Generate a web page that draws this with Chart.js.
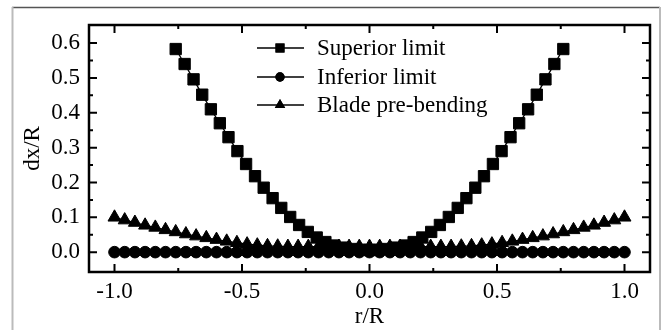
<!DOCTYPE html>
<html>
<head>
<meta charset="utf-8">
<script src="https://cdn.jsdelivr.net/npm/chart.js@4/dist/chart.umd.min.js"></script>
<style>
  html, body { margin: 0; padding: 0; background: #fff; }
  #wrap { width: 663px; height: 330px; position: relative; }
</style>
</head>
<body>
<div id="wrap"><canvas id="chart" width="663" height="330"></canvas></div>
<script>
// r/R grid shared by inferior limit and blade pre-bending
const rGrid = [-1.00, -0.96, -0.92, -0.88, -0.84, -0.80, -0.76, -0.72, -0.68, -0.64,
  -0.60, -0.56, -0.52, -0.48, -0.44, -0.40, -0.36, -0.32, -0.28, -0.24,
  -0.20, -0.16, -0.12, -0.08, -0.04, 0.00, 0.04, 0.08, 0.12, 0.16,
  0.20, 0.24, 0.28, 0.32, 0.36, 0.40, 0.44, 0.48, 0.52, 0.56,
  0.60, 0.64, 0.68, 0.72, 0.76, 0.80, 0.84, 0.88, 0.92, 0.96, 1.00];

const inferiorVals = [0, 0, 0, 0, 0, 0, 0, 0, 0, 0, 0, 0, 0, 0, 0, 0, 0, 0, 0, 0, 0, 0, 0, 0, 0,
  0, 0, 0, 0, 0, 0, 0, 0, 0, 0, 0, 0, 0, 0, 0, 0, 0, 0, 0, 0, 0, 0, 0, 0, 0, 0];

const bladeVals = [0.100, 0.092, 0.085, 0.077, 0.071, 0.064, 0.058, 0.052, 0.046, 0.041,
  0.036, 0.031, 0.027, 0.023, 0.020, 0.018, 0.017, 0.016, 0.016, 0.016,
  0.016, 0.016, 0.016, 0.016, 0.016, 0.016, 0.016, 0.016, 0.016, 0.016,
  0.016, 0.016, 0.016, 0.016, 0.017, 0.018, 0.020, 0.023, 0.027, 0.031,
  0.036, 0.041, 0.046, 0.052, 0.058, 0.064, 0.071, 0.077, 0.085, 0.092, 0.100];

// superior limit has its own (denser) r/R points
const rSuperior = [-0.760, -0.725, -0.690, -0.656, -0.622, -0.587, -0.553, -0.518, -0.484, -0.449,
  -0.415, -0.380, -0.346, -0.311, -0.276, -0.242, -0.207, -0.173, -0.138, -0.104,
  -0.069, -0.035, 0.000, 0.035, 0.069, 0.104, 0.138, 0.173, 0.207, 0.242,
  0.276, 0.311, 0.346, 0.380, 0.415, 0.449, 0.484, 0.518, 0.553, 0.587,
  0.622, 0.656, 0.690, 0.725, 0.760];
const superiorVals = [0.583, 0.540, 0.496, 0.452, 0.410, 0.370, 0.330, 0.290, 0.253, 0.218,
  0.185, 0.155, 0.127, 0.101, 0.078, 0.058, 0.042, 0.029, 0.019, 0.013,
  0.009, 0.007, 0.006, 0.007, 0.009, 0.013, 0.019, 0.029, 0.042, 0.058,
  0.078, 0.101, 0.127, 0.155, 0.185, 0.218, 0.253, 0.290, 0.330, 0.370,
  0.410, 0.452, 0.496, 0.540, 0.583];

const seriesLabels = ['Superior limit', 'Inferior limit', 'Blade pre-bending'];

const xTicks = [-1.0, -0.5, 0.0, 0.5, 1.0];
const xMinor = [-0.75, -0.25, 0.25, 0.75];
const yTicks = [0.0, 0.1, 0.2, 0.3, 0.4, 0.5, 0.6];
const yMinor = [0.05, 0.15, 0.25, 0.35, 0.45, 0.55];

const FONT = 'Liberation Serif, Times New Roman, serif';
const FONT_SIZE = 23;

const toPoints = (xs, ys) => xs.map((x, i) => ({ x, y: ys[i] }));

// Figure frame, axis box and inward ticks on all four sides
const framePlugin = {
  id: 'frame',
  afterDatasetsDraw(chart) {
    const { ctx, chartArea: a, scales } = chart;
    const sx = scales.x, sy = scales.y;
    ctx.save();
    // outer grey figure frame
    ctx.lineWidth = 1.5;
    ctx.strokeStyle = '#555';
    ctx.beginPath();
    ctx.moveTo(12, 7.5); ctx.lineTo(660, 7.5);
    ctx.stroke();
    ctx.strokeStyle = '#bbb';
    ctx.lineWidth = 2;
    ctx.beginPath();
    ctx.moveTo(12.5, 7); ctx.lineTo(12.5, 330);
    ctx.moveTo(660, 7); ctx.lineTo(660, 330);
    ctx.stroke();

    ctx.strokeStyle = '#000';
    ctx.lineWidth = 2;
    const tick = (x1, y1, x2, y2) => { ctx.moveTo(x1, y1); ctx.lineTo(x2, y2); };
    ctx.beginPath();
    xTicks.forEach(v => {
      const px = sx.getPixelForValue(v);
      tick(px, a.bottom, px, a.bottom - 8);
      tick(px, a.top, px, a.top + 8);
    });
    xMinor.forEach(v => {
      const px = sx.getPixelForValue(v);
      tick(px, a.bottom, px, a.bottom - 4);
      tick(px, a.top, px, a.top + 4);
    });
    yTicks.forEach(v => {
      const py = sy.getPixelForValue(v);
      tick(a.left, py, a.left + 8, py);
      tick(a.right, py, a.right - 8, py);
    });
    yMinor.forEach(v => {
      const py = sy.getPixelForValue(v);
      tick(a.left, py, a.left + 4, py);
      tick(a.right, py, a.right - 4, py);
    });
    ctx.stroke();
    ctx.lineWidth = 2.5;
    ctx.strokeRect(a.left, a.top, a.right - a.left, a.bottom - a.top);
    ctx.restore();
  },
  afterDraw(chart) {
    // legend inside the plot: line + marker + label
    const { ctx } = chart;
    const rows = [48, 77, 105];
    ctx.save();
    chart.data.datasets.forEach((ds, i) => {
      const y = rows[i];
      ctx.strokeStyle = '#000';
      ctx.lineWidth = 1.3;
      ctx.beginPath();
      ctx.moveTo(257, y); ctx.lineTo(304, y);
      ctx.stroke();
      ctx.fillStyle = '#000';
      Chart.helpers.drawPoint(ctx, {
        pointStyle: ds.pointStyle, radius: ds.pointRadius * 0.8, rotation: 0, borderWidth: 0
      }, 280, y);
      ctx.fill();
      ctx.font = FONT_SIZE + 'px ' + FONT;
      ctx.textBaseline = 'middle';
      ctx.textAlign = 'left';
      ctx.fillText(ds.label, 317, y + 1);
    });
    ctx.restore();
  }
};

const common = {
  showLine: true,
  borderColor: '#000',
  borderWidth: 1.3,
  backgroundColor: '#000',
  pointBackgroundColor: '#000',
  pointBorderColor: '#000',
  pointBorderWidth: 1,
  tension: 0,
};

new Chart(document.getElementById('chart'), {
  type: 'scatter',
  data: {
    datasets: [
      { ...common, label: seriesLabels[0], data: toPoints(rSuperior, superiorVals), pointStyle: 'rect', pointRadius: 8 },
      { ...common, label: seriesLabels[1], data: toPoints(rGrid, inferiorVals), pointStyle: 'circle', pointRadius: 5.8 },
      { ...common, label: seriesLabels[2], data: toPoints(rGrid, bladeVals), pointStyle: 'triangle', pointRadius: 7.5 },
    ],
  },
  options: {
    responsive: false,
    animation: false,
    layout: { padding: { left: 0, right: 13, top: 25, bottom: 0 } },
    plugins: { legend: { display: false }, tooltip: { enabled: false } },
    scales: {
      x: {
        type: 'linear',
        min: -1.1,
        max: 1.1,
        afterBuildTicks: (s) => { s.ticks = xTicks.map(v => ({ value: v })); },
        afterFit: (s) => { s.height = 58; },
        ticks: { color: '#000', font: { family: FONT, size: FONT_SIZE }, padding: 6, maxRotation: 0,
          callback: (v) => Number(v).toFixed(1) },
        grid: { display: false, drawTicks: false },
        border: { display: false },
        title: { display: true, text: 'r/R', color: '#000', font: { family: FONT, size: FONT_SIZE }, padding: { top: 0, bottom: -1 } },
      },
      y: {
        type: 'linear',
        min: -0.057,
        max: 0.652,
        afterBuildTicks: (s) => { s.ticks = yTicks.map(v => ({ value: v })); },
        afterFit: (s) => { s.width = 89; },
        ticks: { color: '#000', font: { family: FONT, size: FONT_SIZE }, padding: 9,
          callback: (v) => Number(v).toFixed(1) },
        grid: { display: false, drawTicks: false },
        border: { display: false },
        title: { display: true, text: 'dx/R', color: '#000', font: { family: FONT, size: FONT_SIZE }, padding: { top: 19, bottom: 0 } },
      },
    },
  },
  plugins: [framePlugin],
});
</script>
</body>
</html>
